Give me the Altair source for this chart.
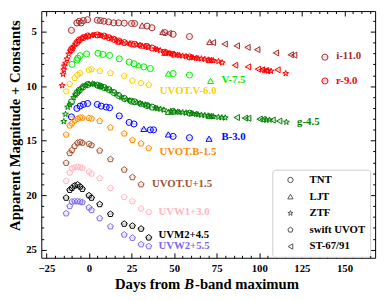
import altair as alt
import pandas as pd

FONT = "Liberation Serif"

# ---------------- data (days from B max, apparent magnitude + constant) ----------------
bands = ["i-11.0", "r-9.0", "V-7.5", "UVOT.V-6.0", "g-4.5", "B-3.0",
         "UVOT.B-1.5", "UVOT.U+1.5", "UVW1+3.0", "UVM2+4.5", "UVW2+5.5"]
band_colors = ["#a52a2a", "#ff0000", "#00ee00", "#ffd000", "#008000", "#0000ff",
               "#ff8c00", "#a0522d", "#ffb6c1", "#000000", "#7b68ee"]
telescopes = ["TNT", "LJT", "ZTF", "swift UVOT", "ST-67/91"]

# i band
i_tnt_d = [-10.3, -7.1, -5.7, -4.6, -3.3, -0.8, 4.9, 6.7, 8.8, 11.5, 14.5, 17.4, 20.7, 25.0, 26.8, 34.1, 37.0, 44.6, 49.4, 59.0, 138.5]
i_tnt_m = [4.88, 4.2, 4.05, 4.2, 3.98, 3.9, 3.95, 3.98, 4.04, 4.1, 4.19, 4.19, 4.22, 4.25, 4.25, 4.49, 4.64, 5.09, 5.24, 5.45, 7.34]
i_ljt_d = [31.2, 43.3, 70.9]
i_ljt_m = [4.43, 5.03, 5.95]
i_st_d = [46.8, 72.8, 79.7, 86.8, 93.1, 98.8, 109.8, 118.5, 120.5]
i_st_m = [5.15, 6.0, 6.14, 6.3, 6.44, 6.65, 6.95, 7.12, 7.15]

# r band
r_tnt_d = [-10.3, -7.1, -5.7, -3.3, -0.8, 4.9, 8.8, 11.5, 14.5, 17.4, 20.7, 25.0, 26.8, 34.1, 37.0, 44.6, 49.4, 59.0, 138.5]
r_tnt_m = [6.65, 6.0, 5.75, 5.54, 5.4, 5.3, 5.4, 5.54, 5.7, 5.86, 6.0, 6.13, 6.16, 6.36, 6.5, 6.88, 7.08, 7.32, 9.52]
r_ztf_d = [-15.7, -15.2, -14.8, -14.5, -13.8, -12.9, -11.9, -11.0, -9.9, -9.0, -8.0, -6.0, -4.0, -2.0, 0.0, 1.9, 3.0,
           6.0, 7.0, 10.0, 12.9, 15.9, 18.9, 22.0, 24.0, 28.0, 30.0, 33.0, 35.0, 38.9, 40.0, 41.8, 45.0, 47.0,
           48.0, 50.0, 52.0, 53.0, 55.0, 57.0, 60.0, 61.0, 63.0, 64.0, 66.0, 68.0, 70.0, 72.0, 73.0, 76.0, 78.2,
           103.0, 105.0, 106.9, 115.5]
r_ztf_m = [9.95, 8.9, 8.5, 8.15, 7.9, 7.5, 7.05, 6.78, 6.5, 6.35, 6.15, 5.82, 5.6, 5.47, 5.38, 5.33, 5.31,
           5.32, 5.35, 5.47, 5.62, 5.78, 5.94, 6.05, 6.1, 6.19, 6.23, 6.32, 6.4, 6.58, 6.64, 6.72, 6.9, 6.98,
           7.02, 7.08, 7.14, 7.17, 7.22, 7.27, 7.34, 7.37, 7.42, 7.45, 7.48, 7.53, 7.58, 7.62, 7.65, 7.72, 7.85,
           8.52, 8.6, 8.62, 8.83]
r_ljt_d = [17.4, 31.2, 44.5, 70.9]
r_ljt_m = [5.9, 6.27, 6.93, 7.6]
r_st_d = [85.8, 93.4, 99.2, 101.5, 104.0, 110.7]
r_st_m = [8.08, 8.23, 8.44, 8.5, 8.56, 8.5]

# V band
v_tnt_d = [-10.0, -7.1, -6.6, -5.2, -1.4, 5.3, 8.2, 12.1, 17.8, 23.6, 26.4, 32.2, 36.0, 49.4, 59.0]
v_tnt_m = [8.0, 7.6, 7.43, 7.2, 7.05, 6.98, 7.09, 7.18, 7.49, 7.79, 7.94, 8.23, 8.39, 8.84, 8.98]
v_ljt_d = [29.3, 46.6, 71.4]
v_ljt_m = [8.08, 8.84, 9.52]

# g band
g_tnt_d = [-10.3, -7.1, -5.7, -3.3, -0.8, 4.9, 6.7, 8.8, 11.5, 14.5, 17.4, 20.7, 25.0, 26.8, 34.1, 37.0, 49.4, 59.0]
g_tnt_m = [11.45, 10.62, 10.38, 10.05, 9.85, 9.9, 10.0, 10.12, 10.3, 10.58, 10.86, 11.12, 11.38, 11.44, 11.78, 11.92, 12.33, 12.48]
g_ztf_d = [-14.8, -13.8, -12.5, -11.2, -9.0, -8.0, -6.0, -4.0, -2.0, 0.0, 2.0, 3.0, 6.0, 7.0, 10.0, 13.0, 16.0,
           19.0, 22.0, 24.0, 28.0, 30.0, 33.0, 35.0, 39.0, 40.0, 42.0, 44.0, 48.0, 50.0, 52.0, 53.0, 55.0, 57.0,
           60.0, 61.0, 63.0, 64.0, 66.0, 68.0, 70.0, 72.0, 73.0, 76.0, 78.0, 80.0, 104.0, 106.0, 115.9]
g_ztf_m = [13.24, 12.57, 11.92, 11.7, 11.05, 10.8, 10.42, 10.15, 9.94, 9.8, 9.78, 9.82, 9.98, 10.04, 10.22, 10.42, 10.7,
           11.02, 11.22, 11.33, 11.5, 11.57, 11.7, 11.82, 12.0, 12.04, 12.1, 12.18, 12.3, 12.33, 12.36, 12.38, 12.41, 12.44,
           12.5, 12.52, 12.56, 12.6, 12.64, 12.68, 12.72, 12.76, 12.78, 12.84, 12.88, 12.9, 13.08, 13.1, 13.3]
g_ljt_d = [31.2, 46.6, 70.9]
g_ljt_m = [11.6, 12.35, 12.74]
g_st_d = [86.8, 91.6, 93.5, 100.2, 102.0, 107.8, 111.7]
g_st_m = [12.88, 12.93, 12.95, 13.02, 13.05, 13.11, 13.2]

# B band
b_tnt_d = [-10.3, -7.1, -5.2, -3.3, -0.8, 4.9, 7.2, 10.1, 12.1, 17.8, 23.6, 26.4, 36.0, 37.9, 49.4, 59.0]
b_tnt_m = [12.82, 12.04, 11.83, 11.68, 11.59, 11.68, 11.83, 11.92, 11.98, 12.73, 13.33, 13.47, 14.01, 14.01, 14.61, 14.73]
b_ljt_d = [32.2, 46.6, 70.5]
b_ljt_m = [13.92, 14.43, 14.82]

# Swift UVOT
uvv_d = [-13.4, -11.3, -8.4, -6.7, -5.2, 0.0, 1.5, 6.3, 12.6, 20.7, 25.5, 30.6, 35.1]
uvv_m = [10.48, 9.8, 9.25, 8.95, 8.8, 8.5, 8.45, 8.6, 8.8, 9.05, 9.5, 9.72, 9.88]
uvb_d = [-13.4, -11.3, -10.0, -8.4, -6.7, -5.2, -3.9, 0.0, 1.5, 6.3, 12.6, 20.7, 25.5, 30.6, 35.1]
uvb_m = [14.45, 13.62, 13.42, 13.15, 13.0, 12.88, 12.9, 12.93, 12.98, 13.2, 13.8, 14.35, 14.95, 15.27, 15.7]
uvu_d = [-13.4, -11.3, -10.0, -8.4, -6.7, -5.2, -3.9, 0.0, 1.5, 6.3, 12.6, 20.7, 25.5, 30.6]
uvu_m = [17.05, 16.15, 15.87, 15.5, 15.2, 15.13, 15.2, 15.3, 15.42, 15.92, 16.71, 17.67, 18.36, 19.02]
uvw1_d = [-13.4, -11.3, -10.0, -8.4, -6.7, -5.2, -3.9, 0.0, 1.5, 6.3, 12.6, 20.7, 25.5, 30.6, 35.1]
uvw1_m = [18.7, 17.94, 17.55, 17.45, 17.4, 17.45, 17.5, 17.85, 18.03, 18.45, 19.35, 20.18, 20.57, 21.24, 21.56]
uvm2_d = [-13.4, -11.3, -10.0, -8.4, -6.7, -5.2, -3.9, 0.0, 1.5, 6.3, 12.6, 20.7, 25.5, 30.6, 35.1]
uvm2_m = [20.25, 19.53, 19.35, 19.13, 19.04, 19.22, 19.44, 20.03, 20.25, 20.84, 21.74, 22.64, 22.82, 23.09, 23.9]
uvw2_d = [-13.4, -11.3, -10.0, -8.4, -6.7, -5.2, -3.9, 0.0, 1.5, 6.3, 12.6, 20.7, 25.5, 30.6, 35.1]
uvw2_m = [21.68, 21.02, 20.6, 20.57, 20.57, 20.6, 20.65, 21.14, 21.38, 22.13, 22.88, 23.63, 23.93, 24.52, 24.7]

# band label annotations (left edge day, magnitude)
label_days = [145.2, 145.0, 77.8, 41.6, 122.2, 77.8, 41.4, 37.0, 40.8, 40.8, 40.8]
label_mags = [7.25, 9.52, 9.47, 10.44, 13.27, 14.68, 16.02, 18.99, 21.56, 23.64, 24.72]

x_major = [-25, 0, 25, 50, 75, 100, 125, 150]
y_major = [5, 10, 15, 20, 25]
x_minor = list(range(-25, 170, 5))
y_minor = list(range(4, 26))

# ---------------- table ----------------
series = [
    ("i-11.0", "TNT", i_tnt_d, i_tnt_m), ("i-11.0", "LJT", i_ljt_d, i_ljt_m), ("i-11.0", "ST-67/91", i_st_d, i_st_m),
    ("r-9.0", "TNT", r_tnt_d, r_tnt_m), ("r-9.0", "ZTF", r_ztf_d, r_ztf_m), ("r-9.0", "LJT", r_ljt_d, r_ljt_m),
    ("r-9.0", "ST-67/91", r_st_d, r_st_m),
    ("V-7.5", "TNT", v_tnt_d, v_tnt_m), ("V-7.5", "LJT", v_ljt_d, v_ljt_m),
    ("UVOT.V-6.0", "swift UVOT", uvv_d, uvv_m),
    ("g-4.5", "TNT", g_tnt_d, g_tnt_m), ("g-4.5", "ZTF", g_ztf_d, g_ztf_m), ("g-4.5", "LJT", g_ljt_d, g_ljt_m),
    ("g-4.5", "ST-67/91", g_st_d, g_st_m),
    ("B-3.0", "TNT", b_tnt_d, b_tnt_m), ("B-3.0", "LJT", b_ljt_d, b_ljt_m),
    ("UVOT.B-1.5", "swift UVOT", uvb_d, uvb_m), ("UVOT.U+1.5", "swift UVOT", uvu_d, uvu_m),
    ("UVW1+3.0", "swift UVOT", uvw1_d, uvw1_m), ("UVM2+4.5", "swift UVOT", uvm2_d, uvm2_m),
    ("UVW2+5.5", "swift UVOT", uvw2_d, uvw2_m),
]
rows = []
for band, tel, ds, ms in series:
    for d, m in zip(ds, ms):
        rows.append({"band": band, "tel": tel, "day": d, "mag": m})
df = pd.DataFrame(rows)
lab = pd.DataFrame({"band": bands, "lday": label_days, "lmag": label_mags})

# ---------------- chart ----------------
W, H = 341, 252
STAR = "M0,-1L0.235,-0.324L0.951,-0.309L0.38,0.124L0.588,0.809L0,0.4L-0.588,0.809L-0.38,0.124L-0.951,-0.309L-0.235,-0.324Z"
PENT = "M0,-1L0.951,-0.309L0.588,0.809L-0.588,0.809L-0.951,-0.309Z"

xscale = alt.Scale(domain=[-28, 168], nice=False, zero=False)
yscale = alt.Scale(domain=[3.11, 25.75], reverse=True, nice=False, zero=False)
cscale = alt.Scale(domain=bands, range=band_colors)


def tick_axis(orient, offset, vals, test):
    return alt.Axis(orient=orient, offset=offset, values=vals, labels=False, domain=False, grid=False,
                    ticks=True, tickColor="black", tickWidth=1,
                    tickSize={"condition": {"test": test, "value": 5}, "value": 2.5}, title=None)


label_axis_x = alt.Axis(orient="bottom", values=x_major, ticks=False, domain=False, grid=False,
                        labelFont=FONT, labelFontSize=11, labelFontWeight="bold", labelColor="black",
                        labelPadding=5, title=None)
label_axis_y = alt.Axis(orient="left", values=y_major, ticks=False, domain=False, grid=False,
                        labelFont=FONT, labelFontSize=11, labelFontWeight="bold", labelColor="black",
                        labelPadding=5, title=None)

errs = alt.Chart(df).transform_calculate(
    xlo="datum.day - 2.2", xhi="datum.day + 2.2"
).mark_rule(strokeWidth=2, opacity=0.18).encode(
    x=alt.X("xlo:Q", scale=xscale, axis=label_axis_x),
    x2="xhi:Q",
    y=alt.Y("mag:Q", scale=yscale, axis=label_axis_y),
    color=alt.Color("band:N", scale=cscale, legend=None),
)

points = alt.Chart(df).mark_point(filled=False, size=38, strokeWidth=1, opacity=1).encode(
    x=alt.X("day:Q", scale=xscale, axis=tick_axis("top", -H, x_minor, "datum.value % 25 === 0")),
    y=alt.Y("mag:Q", scale=yscale, axis=tick_axis("right", -W, y_minor, "datum.value % 5 === 0")),
    color=alt.Color("band:N", scale=cscale, legend=None),
    shape=alt.Shape("tel:N", scale=alt.Scale(domain=telescopes,
                                             range=["circle", "triangle-up", STAR, PENT, "triangle-left"]),
                    legend=alt.Legend(title=None, orient="none", legendX=236, legendY=162,
                                      padding=5, symbolOffset=8, labelOffset=14, rowPadding=5,
                                      strokeColor="#cccccc", fillColor="white", cornerRadius=3,
                                      symbolSize=30, symbolStrokeColor="#555555", symbolFillColor="white",
                                      symbolStrokeWidth=1, labelFont=FONT, labelFontSize=11,
                                      labelFontWeight="bold", labelColor="black")),
)

labels = alt.Chart(lab).mark_text(align="left", baseline="middle", font=FONT, fontSize=11,
                                  fontWeight="bold").encode(
    x=alt.X("lday:Q", scale=xscale, axis=tick_axis("bottom", -H, x_minor, "datum.value % 25 === 0")),
    y=alt.Y("lmag:Q", scale=yscale, axis=tick_axis("left", -W, y_minor, "datum.value % 5 === 0")),
    text="band:N",
    color=alt.Color("band:N", scale=cscale, legend=None),
)

one = pd.DataFrame({"a": [0]})
ytitle = alt.Chart(one).mark_text(angle=270, align="center", baseline="middle", font=FONT,
                                  fontSize=15, fontWeight="bold", color="black").encode(
    text=alt.value("Apparent Magnitude + Constants"), x=alt.value(-26.5), y=alt.value(117))
xt1 = alt.Chart(one).mark_text(align="left", baseline="alphabetic", font=FONT, fontSize=15,
                               fontWeight="bold", color="black").encode(
    text=alt.value("Days from "), x=alt.value(75.3), y=alt.value(283.5))
xt2 = alt.Chart(one).mark_text(align="left", baseline="alphabetic", font=FONT, fontSize=15,
                               fontWeight="bold", fontStyle="italic", color="black").encode(
    text=alt.value("B"), x=alt.value(146.1), y=alt.value(283.5))
xt3 = alt.Chart(one).mark_text(align="left", baseline="alphabetic", font=FONT, fontSize=15,
                               fontWeight="bold", color="black").encode(
    text=alt.value("-band maximum"), x=alt.value(157.0), y=alt.value(283.5))

chart = alt.layer(errs, points, labels, ytitle, xt1, xt2, xt3).resolve_axis(
    x="independent", y="independent"
).properties(
    width=W, height=H,
    autosize=alt.AutoSizeParams(type="none"),
    padding={"left": 34, "top": 0, "right": 6, "bottom": 41},
).configure_view(stroke="black", strokeWidth=1)

chart.save("out.html", embed_options={"renderer": "svg", "actions": False})
